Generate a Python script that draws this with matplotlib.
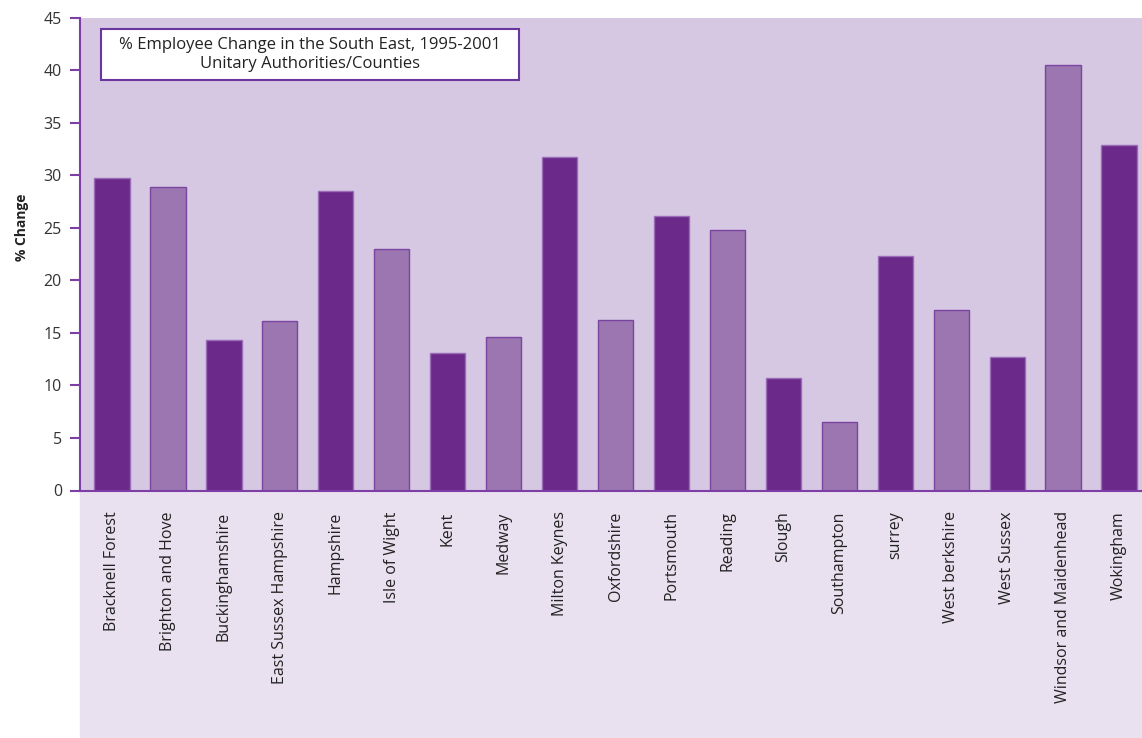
import numpy as np
import matplotlib.pyplot as plt
from matplotlib.patches import Rectangle

plt.rcParams['font.family'] = ['Open Sans', 'DejaVu Sans']

areas = ['Bracknell Forest', 'Brighton and Hove', 'Buckinghamshire',
         'East Sussex Hampshire', 'Hampshire', 'Isle of Wight', 'Kent',
         'Medway', 'Milton Keynes', 'Oxfordshire', 'Portsmouth', 'Reading',
         'Slough', 'Southampton', 'surrey', 'West berkshire', 'West Sussex',
         'Windsor and Maidenhead', 'Wokingham']
pct_change = [29.7, 28.9, 14.35, 16.1, 28.5, 22.95, 13.1, 14.6, 31.7, 16.2,
              26.1, 24.8, 10.7, 6.5, 22.35, 17.2, 12.7, 40.5, 32.9]
y_ticks = [0, 5, 10, 15, 20, 25, 30, 35, 40, 45]

dark = '#6b2a8a'
light = '#9b76b0'
axis_col = '#7d3fa5'

W, H = 1142, 738
fig = plt.figure(figsize=(W / 100, H / 100), dpi=100)

# lighter band behind the category labels
fig.patches.append(Rectangle((80 / W, 0), 1 - 80 / W, (H - 490.5) / H,
                             transform=fig.transFigure, color='#e9e1ef',
                             zorder=-1))

ax = fig.add_axes([80 / W, (H - 490.5) / H, 1 - 80 / W, 473 / H])
ax.set_facecolor('#d6c8e2')

x = np.arange(len(areas))
fills = [dark if i % 2 == 0 else light for i in x]
edges = ['#9a6bb8' if i % 2 == 0 else '#7a45a0' for i in x]
ax.bar(x, pct_change, width=0.63, color=fills, edgecolor=edges, linewidth=1,
       zorder=2)

ax.set_xlim(-0.572, 18.41)
ax.set_ylim(0, 45)
ax.set_yticks(y_ticks)
ax.set_xticks(x)
ax.set_xticklabels(areas, rotation=90, fontsize=11.5, color='#222222')
ax.tick_params(axis='x', length=0, pad=15)
ax.tick_params(axis='y', length=7, width=1.5, color=axis_col, labelsize=11.5,
               labelcolor='#333333', pad=6)

for s in ['top', 'right']:
    ax.spines[s].set_visible(False)
for s in ['left', 'bottom']:
    ax.spines[s].set_color(axis_col)
    ax.spines[s].set_linewidth(1.5)

ax.set_ylabel('% Change', fontsize=10, fontweight='bold', color='#222222')
ax.yaxis.set_label_coords(-0.048, 0.557)

# title box
ax.add_patch(Rectangle((0.0198, 0.8679), 0.3936, 0.1078, transform=ax.transAxes,
                       facecolor='white', edgecolor='#6b35a0', linewidth=1.5,
                       zorder=4))
ax.text(0.2166, 0.922,
        '% Employee Change in the South East, 1995-2001\nUnitary Authorities/Counties',
        transform=ax.transAxes, ha='center', va='center', fontsize=12,
        color='#222222', linespacing=1.2, zorder=5)

fig.savefig('out.png', dpi=100)
